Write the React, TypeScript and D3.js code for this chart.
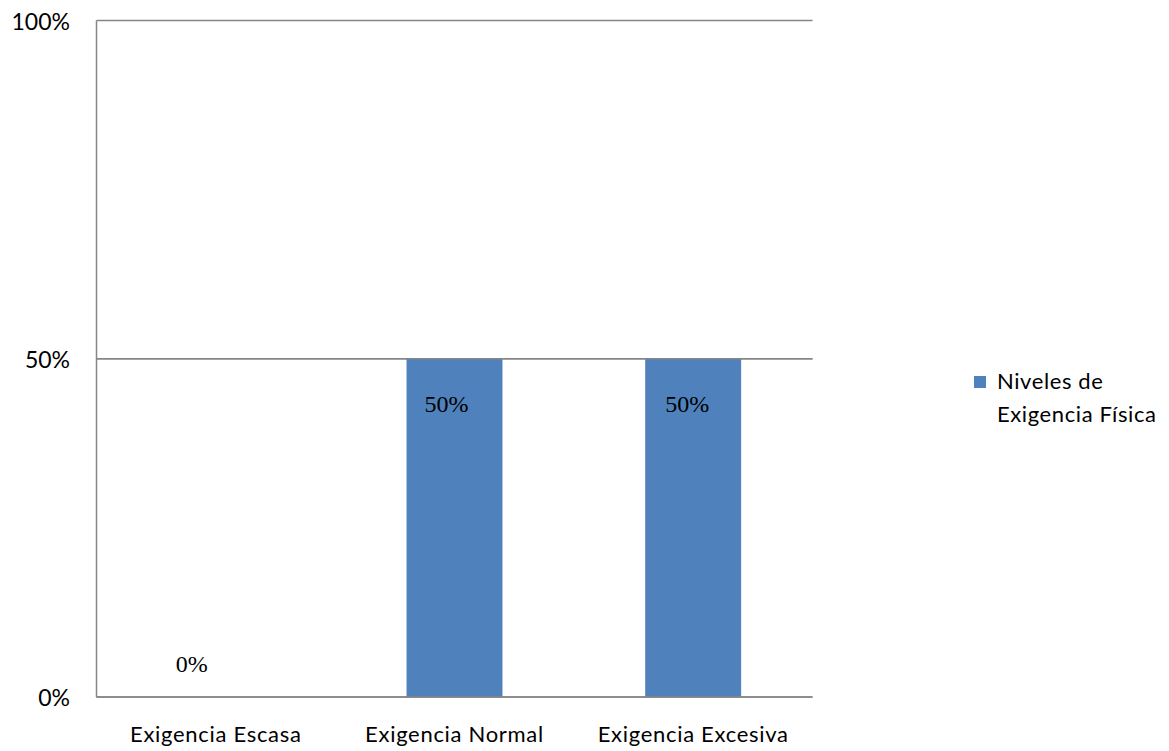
import React from "react";
import * as d3 from "d3";

// Niveles de Exigencia Física — share of responses per category
const categories = ["Exigencia Escasa", "Exigencia Normal", "Exigencia Excesiva"];
const values = [0, 0.5, 0.5];
const valueLabels = ["0%", "50%", "50%"];
const yTicks = [0, 0.5, 1];
const yTickLabels = ["0%", "50%", "100%"];
const seriesName = ["Niveles de", "Exigencia Física"];

const W = 1169;
const H = 751;
const plot = { left: 96.5, right: 812.5, top: 20.5, bottom: 697 };
const BAR_COLOR = "#4F81BD";
const AXIS_COLOR = "#868686";
const SANS = "Lato, 'Open Sans', sans-serif";
const SERIF = "'Liberation Serif', 'DejaVu Serif', serif";
// small horizontal nudges of the value labels
const labelDx = [-24, -8, -6];

export default function App() {
  const x = d3.scaleBand<string>().domain(categories).range([plot.left, plot.right]).padding(0);
  const y = d3.scaleLinear().domain([0, 1]).range([plot.bottom, plot.top]);
  const barW = x.step() * 0.402;

  return (
    <svg
      width={W}
      height={H}
      style={{ position: "absolute", left: 0, top: 0, background: "#fff" }}
    >
      {/* gridlines and baseline */}
      {yTicks.map((t) => (
        <line
          key={t}
          x1={plot.left}
          x2={plot.right}
          y1={y(t)}
          y2={y(t)}
          stroke={AXIS_COLOR}
          strokeWidth={1.5}
        />
      ))}
      {/* bars */}
      {categories.map((c, i) => {
        const cx = (x(c) ?? 0) + x.bandwidth() / 2;
        return (
          <rect
            key={c}
            x={cx - barW / 2}
            y={y(values[i])}
            width={barW}
            height={y(0) - y(values[i])}
            fill={BAR_COLOR}
          />
        );
      })}
      {/* redraw grid over bar tops */}
      <line x1={plot.left} x2={plot.right} y1={y(0.5)} y2={y(0.5)} stroke={AXIS_COLOR} strokeWidth={1.5} />
      {/* axis lines */}
      <line x1={plot.left} x2={plot.left} y1={plot.top} y2={plot.bottom} stroke={AXIS_COLOR} strokeWidth={1.5} />
      <line x1={plot.left} x2={plot.right} y1={plot.bottom} y2={plot.bottom} stroke={AXIS_COLOR} strokeWidth={1.5} />
      {/* y tick labels */}
      {yTicks.map((t, i) => (
        <text
          key={t}
          x={70}
          y={y(t) + 9}
          textAnchor="end"
          fontFamily={SANS}
          fontSize={23}
          fill="#000"
        >
          {yTickLabels[i]}
        </text>
      ))}
      {/* category labels */}
      {categories.map((c) => (
        <text
          key={c}
          x={(x(c) ?? 0) + x.bandwidth() / 2}
          y={742}
          textAnchor="middle"
          fontFamily={SANS}
          fontSize={22}
          letterSpacing={0.7}
          fill="#000"
        >
          {c}
        </text>
      ))}
      {/* value labels */}
      {categories.map((c, i) => {
        const cx = (x(c) ?? 0) + x.bandwidth() / 2 + labelDx[i];
        const ly = values[i] > 0 ? y(values[i]) + 53 : y(0) - 25;
        return (
          <text
            key={c}
            x={cx}
            y={ly}
            textAnchor="middle"
            fontFamily={SERIF}
            fontSize={24}
            fill="#000"
          >
            {valueLabels[i]}
          </text>
        );
      })}
      {/* legend */}
      <rect x={974} y={376} width={12} height={12} fill={BAR_COLOR} />
      {seriesName.map((s, i) => (
        <text
          key={s}
          x={997}
          y={389 + i * 33}
          fontFamily={SANS}
          fontSize={22}
          letterSpacing={0.6}
          fill="#000"
        >
          {s}
        </text>
      ))}
    </svg>
  );
}
